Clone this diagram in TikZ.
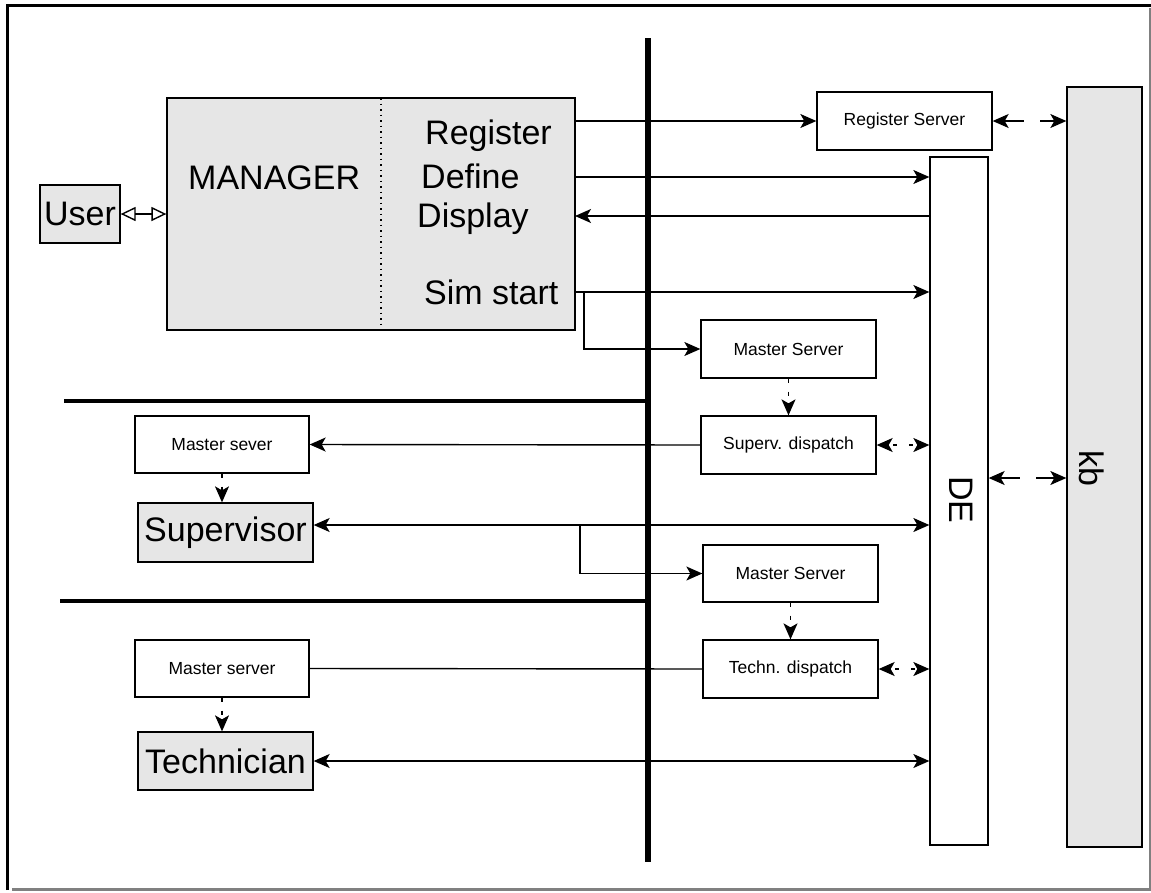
\documentclass[tikz,border=0pt]{standalone}
\usepackage{fontspec}
\setmainfont{Liberation Sans}
\usetikzlibrary{arrows.meta}
\definecolor{boxgray}{HTML}{E6E6E6}
\definecolor{framegray}{HTML}{808080}
\begin{document}
\begin{tikzpicture}[x=1pt,y=-1pt,
  box/.style={draw, line width=1.3pt, rectangle, inner sep=0pt, fill=white,
    font=\fontsize{17.5}{20}\selectfont},
  gbox/.style={box, fill=boxgray},
  big/.style={font=\fontsize{34}{40}\selectfont},
  lbl/.style={big, inner sep=0pt, anchor=base west},
  conn/.style={line width=1.4pt, -{Stealth[length=16pt,width=14pt,inset=4pt]}},
  biconn/.style={line width=1.4pt, {Stealth[length=16pt,width=14pt,inset=4pt]}-{Stealth[length=16pt,width=14pt,inset=4pt]}},
  plain/.style={line width=1.4pt},
  dashconn/.style={conn, dash pattern=on 4pt off 9pt},
  dashbi/.style={biconn, dash pattern=on 4pt off 12pt, dash phase=-5pt},
  longbi/.style={biconn, dash pattern=on 20pt off 16pt},
  bus/.style={line width=5.5pt},
  rail/.style={line width=4.5pt},
]
\useasboundingbox (0,0) rectangle (1151,892);

% frame
\draw[line width=3.5pt] (7.5,890) -- (7.5,5.5) -- (1151,5.5);
\draw[framegray, line width=2pt] (1150,8) -- (1150,889);
\draw[framegray, line width=3.5pt] (12,889.5) -- (1151,889.5);

% buses
\draw[bus] (648,38) -- (648,862);
\draw[rail] (64,401) -- (650,401);
\draw[rail] (60,601) -- (650,601);

% manager block
\node[gbox, minimum width=408pt, minimum height=232pt] (mgr) at (371,214) {};
\draw[line width=1.2pt, dash pattern=on 1.5pt off 4pt] (381,98) -- (381,330);
\node[lbl] (mgrt) at (188,189) {MANAGER};
\node[lbl] (reg)  at (425,144) {Register};
\node[lbl] (def)  at (421,188) {Define};
\node[lbl] (dsp)  at (417,227) {Display};
\node[lbl] (sim)  at (424,304) {Sim start};

\node[gbox, big, minimum width=80pt, minimum height=58pt] (user) at (80,214) {User};

% servers and stores
\node[box, minimum width=175pt, minimum height=58pt] (rs) at (904.5,121) {Register Server};
\node[box, minimum width=58pt, minimum height=688pt] (de) at (959,501) {};
\node[big, rotate=-90, inner sep=0pt] (det) at (961,500) {DE};
\node[gbox, minimum width=75pt, minimum height=760pt] (kb) at (1104.5,467) {};
\node[big, rotate=-90, inner sep=0pt] (kbt) at (1092,468) {kb};

\node[box, minimum width=175pt, minimum height=58pt] (ms1) at (788.5,349) {Master Server};
\node[box, minimum width=175pt, minimum height=58pt] (sd)  at (788.5,445) {Superv. dispatch};
\node[box, minimum width=174pt, minimum height=57pt] (msl1) at (222,444.5) {Master sever};
\node[gbox, big, minimum width=175pt, minimum height=59pt] (sup) at (225.5,532.5) {Supervisor};

\node[box, minimum width=175pt, minimum height=57pt] (ms2) at (790.5,573.5) {Master Server};
\node[box, minimum width=175pt, minimum height=58pt] (td)  at (790.5,669) {Techn. dispatch};
\node[box, minimum width=174pt, minimum height=57pt] (msl2) at (222,668.5) {Master server};
\node[gbox, big, minimum width=175pt, minimum height=58pt] (tech) at (225.5,761) {Technician};

% user link
\draw[line width=1.4pt, {Triangle[open,length=15pt,width=14pt]}-{Triangle[open,length=15pt,width=14pt]}]
  (user.east) -- (mgr.west |- user.east);

% manager requests
\draw[conn] (mgr.east |- rs.west) -- (rs.west);
\draw[conn] (575,177) -- (de.west |- 0,177);
\draw[conn] (de.west |- 0,216) -- (575,216);
\draw[conn] (575,292) -- (de.west |- 0,292);
\coordinate (j1) at (584,292);
\draw[conn] (j1) |- (ms1.west);

% register server and knowledge base
\draw[longbi] (rs.east) -- (kb.west |- rs.east);
\draw[longbi] (de.east |- 0,478) -- (kb.west |- 0,478);

% supervisor chain
\draw[dashconn] (ms1.south) -- (sd.north);
\draw[dashbi] (sd.east) -- (de.west |- sd.east);
\draw[conn] (sd.west) -- (msl1.east);
\draw[dashconn] (msl1.south) -- (msl1.south |- sup.north);
\draw[biconn] (sup.east |- 0,525) -- (de.west |- 0,525);
\coordinate (j2) at (580,525);
\draw[conn] (j2) |- (ms2.west);

% technician chain
\draw[dashconn] (ms2.south) -- (td.north);
\draw[dashbi] (td.east) -- (de.west |- td.east);
\draw[plain] (td.west) -- (msl2.east);
\draw[dashconn] (msl2.south) -- (msl2.south |- tech.north);
\draw[biconn] (tech.east) -- (de.west |- tech.east);
\end{tikzpicture}
\end{document}
